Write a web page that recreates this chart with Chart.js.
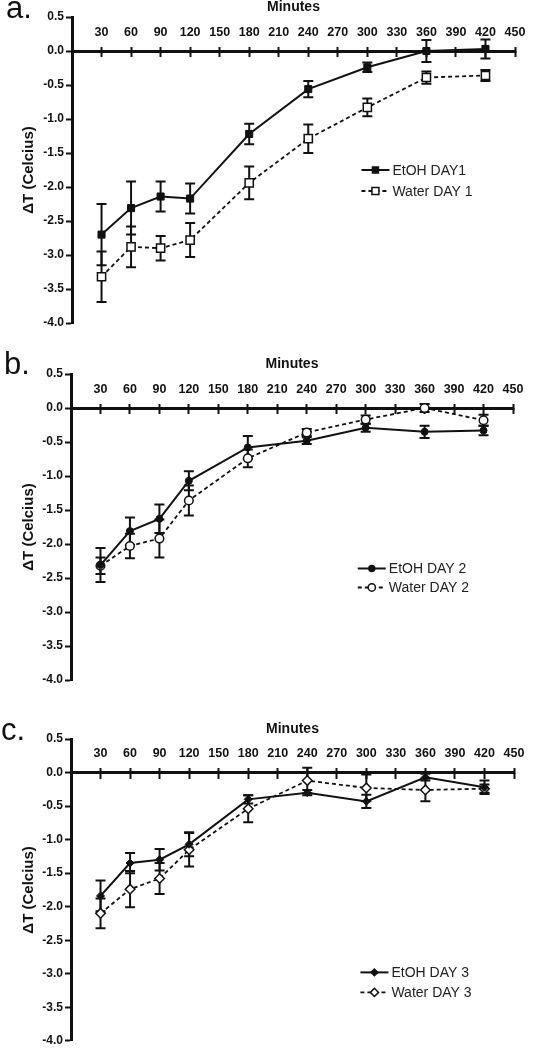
<!DOCTYPE html>
<html>
<head>
<meta charset="utf-8">
<script src="https://cdn.jsdelivr.net/npm/chart.js"></script>
<style>
  html, body { margin: 0; padding: 0; background: #fff; }
  #page { position: relative; width: 540px; height: 1050px; overflow: hidden; font-family: "Liberation Sans", Arial, sans-serif; }
  .panel { position: absolute; left: 0; width: 540px; }
  .tag { position: absolute; font-size: 31px; line-height: 1; color: #111; }
</style>
</head>
<body>
<div id="page">
  <div class="panel" style="top:0px;height:340px"><canvas id="chartA" width="540" height="340"></canvas></div>
  <div class="panel" style="top:357px;height:340px"><canvas id="chartB" width="540" height="340"></canvas></div>
  <div class="panel" style="top:722px;height:328px"><canvas id="chartC" width="540" height="328"></canvas></div>
  <div class="tag" style="left:6px;top:-8px">a.</div>
  <div class="tag" style="left:4px;top:348px">b.</div>
  <div class="tag" style="left:1px;top:714px">c.</div>
</div>
<script>
// time points (minutes) shared by all three days
const minutes = [30, 60, 90, 120, 180, 240, 300, 360, 420];

// Day 1
const etohDay1 = [-2.70, -2.31, -2.14, -2.17, -1.22, -0.56, -0.24, 0.00, 0.03];
const etohDay1Err = [0.45, 0.39, 0.22, 0.22, 0.15, 0.12, 0.07, 0.16, 0.14];
const waterDay1 = [-3.32, -2.88, -2.90, -2.78, -1.94, -1.29, -0.83, -0.39, -0.36];
const waterDay1Err = [0.37, 0.30, 0.18, 0.25, 0.24, 0.21, 0.13, 0.09, 0.08];

// Day 2
const etohDay2 = [-2.31, -1.81, -1.63, -1.07, -0.58, -0.48, -0.29, -0.35, -0.33];
const etohDay2Err = [0.25, 0.20, 0.21, 0.14, 0.17, 0.05, 0.06, 0.09, 0.07];
const waterDay2 = [-2.32, -2.03, -1.92, -1.36, -0.74, -0.36, -0.17, 0.00, -0.18];
const waterDay2Err = [0.12, 0.18, 0.28, 0.22, 0.13, 0.05, 0.06, 0.06, 0.08];

// Day 3
const etohDay3 = [-1.84, -1.35, -1.30, -1.07, -0.40, -0.30, -0.43, -0.07, -0.22];
const etohDay3Err = [0.23, 0.15, 0.16, 0.18, 0.06, 0.04, 0.10, 0.05, 0.10];
const waterDay3 = [-2.10, -1.74, -1.58, -1.15, -0.54, -0.12, -0.23, -0.26, -0.24];
const waterDay3Err = [0.22, 0.27, 0.23, 0.25, 0.20, 0.19, 0.20, 0.17, 0.06];

const xTitle = 'Minutes';
const yTitle = 'ΔT (Celcius)';
const INK = '#111';
const FONT = '"Liberation Sans", Arial, sans-serif';

/* Error bars: vertical whisker with caps, drawn under the markers */
const errorBarPlugin = {
  id: 'errorBars',
  beforeDatasetsDraw(chart) {
    const ctx = chart.ctx;
    const yScale = chart.scales.y;
    chart.data.datasets.forEach((ds, i) => {
      const meta = chart.getDatasetMeta(i);
      ctx.save();
      ctx.strokeStyle = INK;
      ctx.lineWidth = 2;
      meta.data.forEach((pt, j) => {
        const v = ds.data[j].y;
        const e = ds.errors[j];
        const top = yScale.getPixelForValue(v + e);
        const bot = yScale.getPixelForValue(v - e);
        ctx.beginPath();
        ctx.moveTo(pt.x, top); ctx.lineTo(pt.x, bot);
        ctx.moveTo(pt.x - 5, top); ctx.lineTo(pt.x + 5, top);
        ctx.moveTo(pt.x - 5, bot); ctx.lineTo(pt.x + 5, bot);
        ctx.stroke();
      });
      ctx.restore();
    });
  }
};

function drawMarker(ctx, style, x, y, r, fill) {
  ctx.beginPath();
  if (style === 'circle') {
    ctx.arc(x, y, r, 0, Math.PI * 2);
  } else if (style === 'rect') {
    const s = Math.SQRT1_2 * r;
    ctx.rect(x - s, y - s, 2 * s, 2 * s);
  } else {
    ctx.moveTo(x - r, y); ctx.lineTo(x, y - r); ctx.lineTo(x + r, y); ctx.lineTo(x, y + r);
    ctx.closePath();
  }
  ctx.fillStyle = fill;
  ctx.fill();
  ctx.lineWidth = 1.5;
  ctx.strokeStyle = INK;
  ctx.stroke();
}

/* Legend sitting inside the plot, anchored in data units */
const insetLegendPlugin = {
  id: 'insetLegend',
  afterDraw(chart, args, opts) {
    const ctx = chart.ctx;
    const x0 = chart.scales.x.getPixelForValue(opts.x);
    let y = chart.scales.y.getPixelForValue(opts.y);
    chart.data.datasets.forEach(ds => {
      ctx.save();
      ctx.strokeStyle = INK;
      ctx.lineWidth = ds.borderWidth;
      ctx.setLineDash(ds.borderDash || []);
      ctx.beginPath();
      ctx.moveTo(x0, y); ctx.lineTo(x0 + 28, y);
      ctx.stroke();
      ctx.setLineDash([]);
      drawMarker(ctx, ds.pointStyle, x0 + 14, y, ds.pointRadius * 0.85, ds.pointBackgroundColor);
      ctx.fillStyle = '#222';
      ctx.font = '14px ' + FONT;
      ctx.textBaseline = 'middle';
      ctx.fillText(ds.label, x0 + 31, y + 1);
      ctx.restore();
      y += opts.rowGap;
    });
  }
};

function toPoints(values) {
  return minutes.map((m, i) => ({ x: m, y: values[i] }));
}

function makePanel(canvasId, series, style, geom, legendAt) {
  const ctx = document.getElementById(canvasId).getContext('2d');
  const canvasH = ctx.canvas.height;
  return new Chart(ctx, {
    type: 'line',
    data: {
      datasets: [
        {
          label: series[0].label,
          data: toPoints(series[0].values),
          errors: series[0].errors,
          borderColor: INK,
          borderWidth: 2,
          pointStyle: style.shape,
          pointRadius: style.filledR,
          pointBackgroundColor: INK,
          pointBorderColor: INK,
          pointBorderWidth: 1,
          tension: 0,
          fill: false
        },
        {
          label: series[1].label,
          data: toPoints(series[1].values),
          errors: series[1].errors,
          borderColor: INK,
          borderWidth: 1.8,
          borderDash: [4, 3],
          pointStyle: style.shape,
          pointRadius: style.openR,
          pointBackgroundColor: '#fff',
          pointBorderColor: INK,
          pointBorderWidth: 1.5,
          tension: 0,
          fill: false
        }
      ]
    },
    options: {
      responsive: false,
      animation: false,
      events: [],
      layout: { padding: { left: 0, right: 540 - geom.right, top: 0, bottom: canvasH - geom.bottom } },
      plugins: {
        legend: { display: false },
        tooltip: { enabled: false },
        title: {
          display: true,
          text: xTitle,
          fullSize: false,
          color: INK,
          font: { family: FONT, size: 14, weight: 'bold', lineHeight: 1 },
          padding: { top: 0, bottom: 3 }
        },
        insetLegend: legendAt
      },
      scales: {
        x: {
          type: 'linear',
          min: 0,
          max: 450,
          position: { y: 0 },
          border: { display: true, width: 3, color: INK },
          grid: { drawOnChartArea: false, drawTicks: true, tickLength: -6, tickWidth: 2, tickColor: INK },
          ticks: {
            stepSize: 30,
            autoSkip: false,
            maxRotation: 0,
            padding: -20,
            color: INK,
            font: { family: FONT, size: 12.5, weight: 'bold' },
            callback: v => (v === 0 ? '' : v)
          }
        },
        x2: {
          type: 'linear',
          min: 0,
          max: 450,
          position: { y: 0 },
          border: { display: false },
          grid: { drawOnChartArea: false, drawTicks: true, tickLength: 6, tickWidth: 2, tickColor: INK },
          ticks: { stepSize: 30, autoSkip: false, display: false }
        },
        y: {
          type: 'linear',
          min: -4,
          max: 0.5,
          position: 'left',
          border: { display: true, width: 3, color: INK },
          grid: { drawOnChartArea: false, drawTicks: true, tickLength: 6, tickWidth: 2, tickColor: INK },
          ticks: {
            stepSize: 0.5,
            padding: 2,
            color: INK,
            font: { family: FONT, size: 12, weight: 'bold' },
            callback: v => Number(v).toFixed(1)
          },
          title: {
            display: true,
            text: yTitle,
            color: INK,
            font: { family: FONT, size: 15, weight: 'bold' },
            padding: { top: 20, bottom: 0 }
          },
          afterFit(scale) { scale.width = geom.left; }
        }
      }
    },
    plugins: [errorBarPlugin, insetLegendPlugin]
  });
}

makePanel('chartA',
  [
    { label: 'EtOH DAY1', values: etohDay1, errors: etohDay1Err },
    { label: 'Water DAY 1', values: waterDay1, errors: waterDay1Err }
  ],
  { shape: 'rect', filledR: 5, openR: 5.8 },
  { left: 72, right: 515, bottom: 323 },
  { x: 294, y: -1.75, rowGap: 21 }
);

makePanel('chartB',
  [
    { label: 'EtOH DAY 2', values: etohDay2, errors: etohDay2Err },
    { label: 'Water DAY 2', values: waterDay2, errors: waterDay2Err }
  ],
  { shape: 'circle', filledR: 3.5, openR: 4.3 },
  { left: 71, right: 513, bottom: 323 },
  { x: 292, y: -2.36, rowGap: 19 }
);

makePanel('chartC',
  [
    { label: 'EtOH DAY 3', values: etohDay3, errors: etohDay3Err },
    { label: 'Water DAY 3', values: waterDay3, errors: waterDay3Err }
  ],
  { shape: 'rectRot', filledR: 4, openR: 4.8 },
  { left: 71, right: 514, bottom: 322 },
  { x: 294, y: -2.98, rowGap: 20 }
);
</script>
</body>
</html>
